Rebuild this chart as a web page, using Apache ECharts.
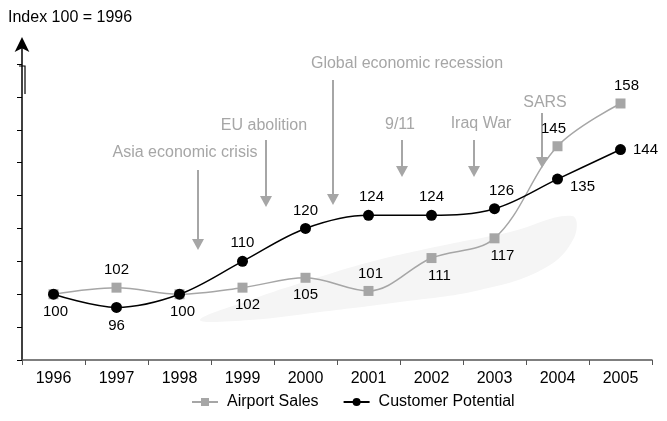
<!DOCTYPE html>
<html>
<head>
<meta charset="utf-8">
<script src="https://cdn.jsdelivr.net/npm/echarts@6/dist/echarts.min.js"></script>
<style>
html,body{margin:0;padding:0;background:#fff;}
#c{width:667px;height:421px;}
</style>
</head>
<body>
<div id="c"></div>
<script>
// ---- data ----
var years = ['1996','1997','1998','1999','2000','2001','2002','2003','2004','2005'];
var airportSales = [100, 102, 100, 102, 105, 101, 111, 117, 145, 158];
var customerPotential = [100, 96, 100, 110, 120, 124, 124, 126, 135, 144];
var yTicks = [80, 90, 100, 110, 120, 130, 140, 150, 160, 170];
var annTexts = ['Asia economic crisis', 'EU abolition', 'Global economic recession', '9/11', 'Iraq War', 'SARS'];

// ---- label styling (positions) ----
var asLabelPos = [null, ['top', [0,0]], null, ['bottom', [5,0]], ['bottom', [0,0]], ['top', [2,0]], ['bottom', [8,0]], ['bottom', [8,0]], ['top', [-4,0]], ['top', [6,0]]];
var cpLabelPos = [['bottom', [2,0]], ['bottom', [0,0]], ['bottom', [3,0]], ['top', [0,0]], ['top', [0,0]], ['top', [3,0]], ['top', [0,0]], ['top', [7,0]], ['right', [2,8]], ['right', [2,0]]];

function buildData(vals, pos) {
  return vals.map(function (v, i) {
    var p = pos[i];
    if (!p) return { value: v, label: { show: false } };
    return { value: v, label: { show: true, position: p[0], offset: p[1] } };
  });
}

var gridLeft = 22, gridRight = 15, gridTop = 41, gridBottom = 61;
var annColor = '#a6a6a6';

// annotation geometry (pixels; decorative, not data marks)
var annGeom = [
  { tx: 185, ty: 153, ax: 198, y1: 170, y2: 250 },
  { tx: 264, ty: 126, ax: 266, y1: 140, y2: 207 },
  { tx: 407, ty: 64,  ax: 333, y1: 80,  y2: 205 },
  { tx: 400, ty: 125, ax: 402, y1: 140, y2: 177 },
  { tx: 481, ty: 124, ax: 474, y1: 140, y2: 177 },
  { tx: 545, ty: 103, ax: 542, y1: 113, y2: 168 }
];

var graphics = [];
// faint background wash
graphics.push({
  type: 'polygon', z: -10, silent: true,
  shape: { points: [[200,320],[250,300],[310,280],[370,262],[440,246],[510,232],[572,216],[574,238],[545,268],[480,290],[400,302],[320,312],[250,320]], smooth: 0.4 },
  style: { fill: '#f5f5f5' }
});
annTexts.forEach(function (t, i) {
  var g = annGeom[i];
  graphics.push({
    type: 'text', x: g.tx, y: g.ty,
    style: { text: t, fill: annColor, font: '16px "Liberation Sans", Arial, sans-serif', textAlign: 'center', textVerticalAlign: 'middle' }
  });
  graphics.push({
    type: 'line', shape: { x1: g.ax, y1: g.y1, x2: g.ax, y2: g.y2 - 9 },
    style: { stroke: annColor, lineWidth: 2 }
  });
  graphics.push({
    type: 'polygon', shape: { points: [[g.ax - 6, g.y2 - 11], [g.ax + 6, g.y2 - 11], [g.ax, g.y2]] },
    style: { fill: annColor }
  });
});
// title
graphics.push({
  type: 'text', x: 8, y: 18,
  style: { text: 'Index 100 = 1996', fill: '#000', font: '16px "Liberation Sans", Arial, sans-serif', textVerticalAlign: 'middle' }
});
// small bracket artifact near top of y axis
graphics.push({
  type: 'polyline', shape: { points: [[19,66],[25,66],[25,94]] },
  style: { stroke: '#000', lineWidth: 1.2, fill: null }
});

var chart = echarts.init(document.getElementById('c'), null, { renderer: 'canvas' });
chart.setOption({
  animation: false,
  backgroundColor: '#fff',
  textStyle: { fontFamily: '"Liberation Sans", Arial, sans-serif' },
  grid: { left: gridLeft, right: gridRight, top: gridTop, bottom: gridBottom, containLabel: false },
  legend: {
    bottom: 6, left: 186,
    itemWidth: 26, itemHeight: 10, itemGap: 24,
    textStyle: { fontSize: 16, color: '#000', padding: [0, 0, 0, 4] },
    data: ['Airport Sales', 'Customer Potential']
  },
  xAxis: {
    type: 'category', data: years, boundaryGap: true,
    axisLine: { lineStyle: { color: '#555', width: 1.5 } },
    axisTick: { show: true, length: 5, lineStyle: { color: '#555' } },
    axisLabel: { fontSize: 16, color: '#000', margin: 11 }
  },
  yAxis: {
    type: 'value', min: 80, max: 177,
    axisLine: { show: true, lineStyle: { color: '#000', width: 1.5 }, symbol: ['none', 'arrow'], symbolSize: [11, 15], symbolOffset: [0, 4] },
    axisTick: { show: true, length: 5, lineStyle: { color: '#000' }, customValues: yTicks },
    axisLabel: { show: false },
    splitLine: { show: false }
  },
  series: [
    {
      name: 'Airport Sales', type: 'line', smooth: 0.35,
      data: buildData(airportSales, asLabelPos),
      symbol: 'rect', symbolSize: 10,
      itemStyle: { color: '#a6a6a6' },
      lineStyle: { color: '#a6a6a6', width: 1.5 },
      label: { fontSize: 15, color: '#000', distance: 5 },
      z: 2
    },
    {
      name: 'Customer Potential', type: 'line', smooth: 0.35,
      data: buildData(customerPotential, cpLabelPos),
      symbol: 'circle', symbolSize: 11,
      itemStyle: { color: '#000' },
      lineStyle: { color: '#000', width: 1.5 },
      label: { fontSize: 15, color: '#000', distance: 5 },
      z: 3
    }
  ],
  graphic: graphics
});
</script>
</body>
</html>
